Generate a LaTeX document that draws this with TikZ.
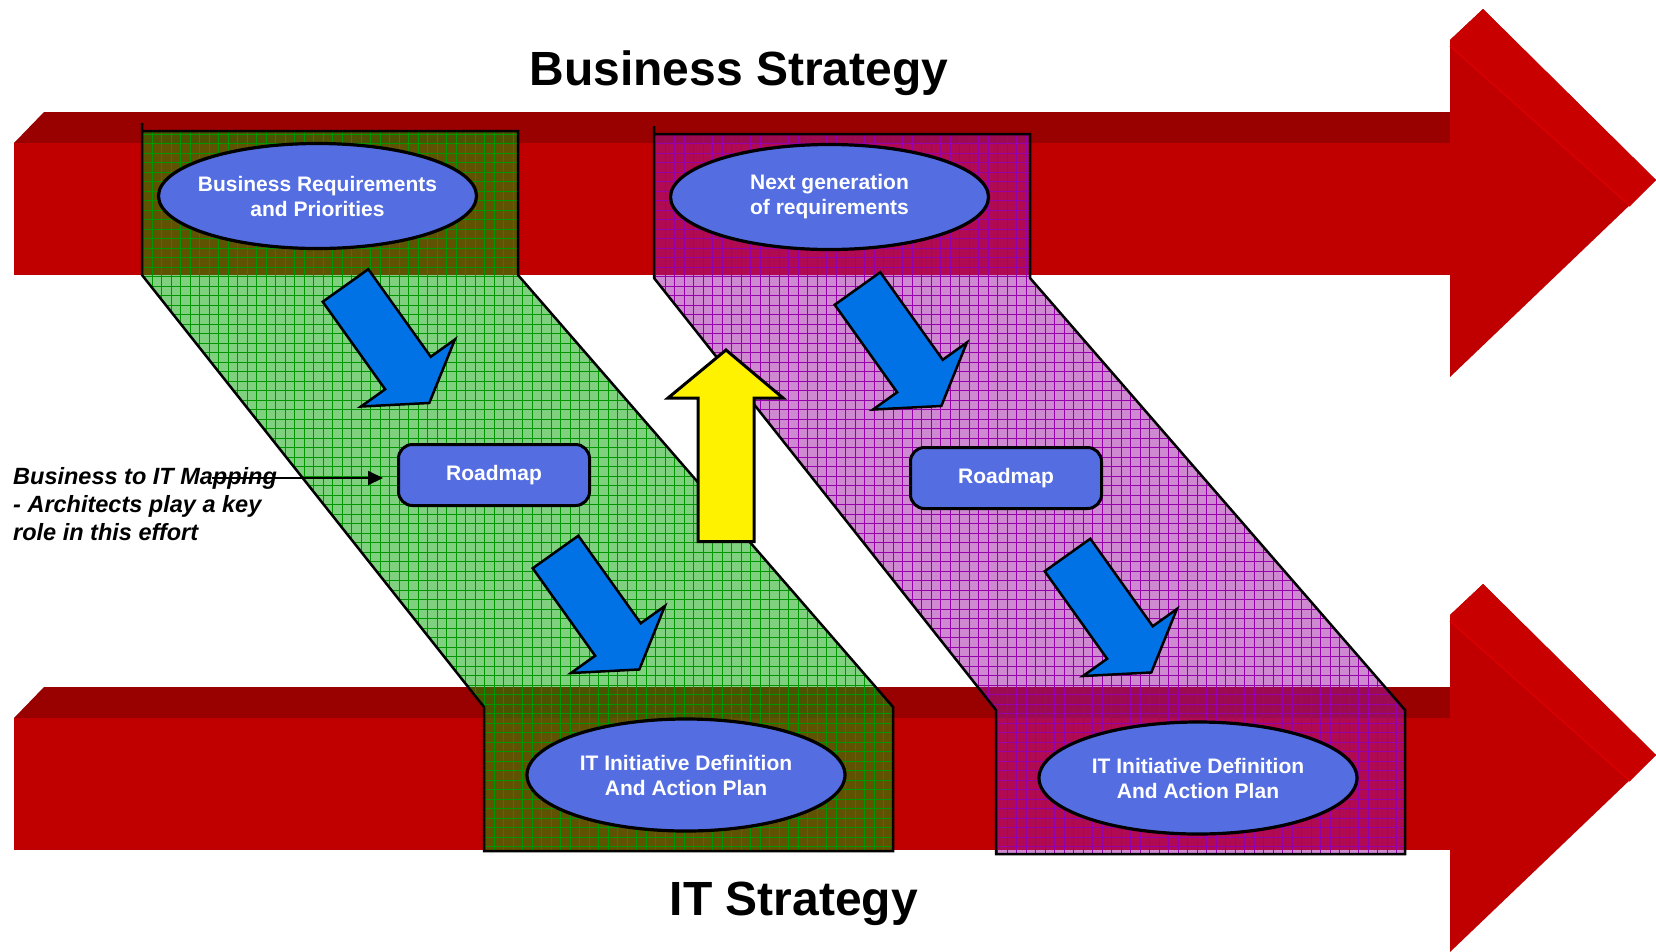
\documentclass[tikz,border=0pt]{standalone}
\usepackage{fontspec}
\setmainfont{Liberation Sans}
\usetikzlibrary{shapes.geometric}
\usetikzlibrary{arrows.meta}
\usetikzlibrary{patterns}

\definecolor{shaftred}{RGB}{192,0,0}
\definecolor{shafttop}{RGB}{153,0,0}
\definecolor{headtop}{RGB}{201,0,0}
\definecolor{ridge}{RGB}{216,0,0}
\definecolor{bandgreen}{RGB}{0,165,0}
\definecolor{gridgreen}{RGB}{0,150,0}
\definecolor{bandpink}{RGB}{160,20,165}
\definecolor{gridpink}{RGB}{150,0,170}
\definecolor{ovalblue}{RGB}{84,110,226}
\definecolor{arrowblue}{RGB}{0,114,230}

% square grid, about 9.5px apart
\pgfdeclarepatternformonly{bandgrid}{\pgfqpoint{-1pt}{-1pt}}{\pgfqpoint{10.5pt}{10.5pt}}{\pgfqpoint{9.5pt}{9.5pt}}{
  \pgfsetlinewidth{0.55pt}
  \pgfpathmoveto{\pgfqpoint{-1pt}{0pt}}\pgfpathlineto{\pgfqpoint{10.5pt}{0pt}}
  \pgfpathmoveto{\pgfqpoint{0pt}{-1pt}}\pgfpathlineto{\pgfqpoint{0pt}{10.5pt}}
  \pgfusepath{stroke}}

\tikzset{
  oval/.style={ellipse, draw=black, line width=3.2pt, fill=ovalblue, text=white,
    minimum width=318pt, minimum height=105pt, inner xsep=-12pt, inner ysep=0pt,
    align=center, font=\bfseries\fontsize{21}{25}\selectfont},
  roadbox/.style={rectangle, rounded corners=14pt, draw=black, line width=3pt,
    fill=ovalblue, text=white, minimum width=191pt, minimum height=61pt,
    font=\bfseries\fontsize{21}{25}\selectfont},
  bandline/.style={line width=2.5pt, line join=miter},
  blockblue/.style={fill=arrowblue, draw=black, line width=2.5pt, line join=miter},
  blockyellow/.style={fill=yellow, draw=black, line width=3pt, line join=miter},
  title/.style={font=\bfseries\fontsize{48}{58}\selectfont},
  annot/.style={font=\bfseries\itshape\fontsize{23.5}{28.3}\selectfont, align=left, inner sep=0pt},
  pointer/.style={line width=2pt, ->, >={Triangle[length=15pt,width=14pt]}},
  % one red 3D arrow (shaft + head)
  pics/strategyarrow/.style={code={
    \fill[shafttop] (44,112) -- (1450,112) -- (1450,143) -- (14,143) -- cycle;
    \fill[shaftred] (14,143) rectangle (1450,275);
    \fill[shaftred] (1450,40) -- (1483,9) -- (1656,180) -- (1450,377) -- cycle;
    \fill[headtop] (1450,40) -- (1483,9) -- (1656,180) -- (1630,206) -- (1450,46) -- cycle;
    \draw[ridge, line width=1.5pt] (1450,46) -- (1630,206);
  }},
  % slanted band from business to IT strategy
  pics/band/.style 2 args={code={
    \path[preaction={fill=#1, fill opacity=.5}, pattern=bandgrid, pattern color=#2]
      (142,131) -- (518,131) -- (518,275) -- (893,707) -- (893,851)
      -- (484,851) -- (484,707) -- (142,275) -- cycle;
    \draw[bandline] (142,123) -- (142,275) -- (484,707) -- (484,851) -- (893,851)
      -- (893,707) -- (518,275) -- (518,131) -- (142,131);
  }},
  pics/bluearrow/.style={code={
    \draw[blockblue] (0,-28) -- (107.5,-28) -- (107.5,-57.7) -- (144.3,0)
      -- (107.5,57.7) -- (107.5,28) -- (0,28) -- cycle;
  }},
}

\begin{document}
\begin{tikzpicture}[x=1pt, y=-1pt]
\useasboundingbox[fill=white] (0,0) rectangle (1656,951);

% strategy arrows
\pic at (0,0) {strategyarrow};
\pic at (0,575) {strategyarrow};

% bands
\pic at (0,0) {band={bandgreen}{gridgreen}};
\pic at (512,3) {band={bandpink}{gridpink}};

% block arrows
\pic[rotate=-54.5] at (345.5,285.5) {bluearrow};
\pic[rotate=-54.5] at (555.5,552) {bluearrow};
\pic[rotate=-54.5] at (857.5,288.5) {bluearrow};
\pic[rotate=-54.5] at (1067.5,555) {bluearrow};
\draw[blockyellow] (698,541.5) -- (698,398) -- (668,398) -- (726,350) -- (783,398)
  -- (754,398) -- (754,541.5) -- cycle;

% nodes
\node[oval] (bizreq) at (317.5,196) {Business Requirements\\and Priorities};
\node[oval] (nextgen) at (829.5,197) {Next generation\\of requirements};
\node[oval, minimum height=112pt] (itplan1) at (686,775) {IT Initiative Definition\\And Action Plan};
\node[oval, minimum height=112pt] (itplan2) at (1198,778) {IT Initiative Definition\\And Action Plan};
\node[roadbox] (roadmap1) at (494,475) {Roadmap};
\node[roadbox] (roadmap2) at (1006,478) {Roadmap};

\node[title, anchor=base] (bizstrat) at (739,85) {Business Strategy};
\node[title, anchor=base] (itstrat) at (794,915) {IT Strategy};

\node[annot, anchor=north west] (mapping) at (13,467) {Business to IT Mapping\\- Architects play a key\\role in this effort};
\coordinate (mapfrom) at (212,478);
\draw[pointer, shorten >=14pt] (mapfrom) -- (mapfrom -| roadmap1.west);
\end{tikzpicture}
\end{document}
